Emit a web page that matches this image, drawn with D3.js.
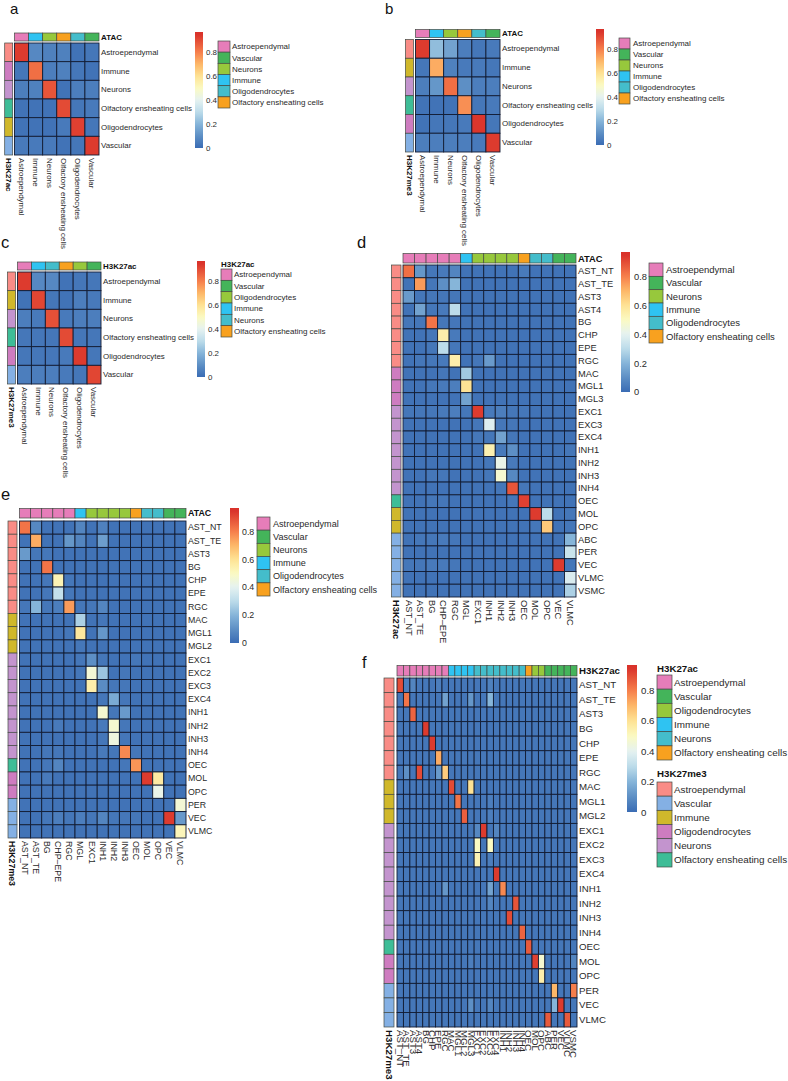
<!DOCTYPE html>
<html><head><meta charset="utf-8">
<script src="https://cdn.jsdelivr.net/npm/d3@7"></script>
<style>html,body{margin:0;background:#fff}svg{display:block}text{font-family:"Liberation Sans",Arial,sans-serif;fill:#2a2a2a}</style>
</head><body><svg id="c" width="788" height="1081"></svg>
<script>
// ---------- categories ----------
const coarse = ["Astroependymal","Immune","Neurons","Olfactory ensheating cells","Oligodendrocytes","Vascular"];
const dRowNames = ["AST_NT","AST_TE","AST3","AST4","BG","CHP","EPE","RGC","MAC","MGL1","MGL3","EXC1","EXC3","EXC4","INH1","INH2","INH3","INH4","OEC","MOL","OPC","ABC","PER","VEC","VLMC","VSMC"];
const efRowNames = ["AST_NT","AST_TE","AST3","BG","CHP","EPE","RGC","MAC","MGL1","MGL2","EXC1","EXC2","EXC3","EXC4","INH1","INH2","INH3","INH4","OEC","MOL","OPC","PER","VEC","VLMC"];
const deColNames = ["AST_NT","AST_TE","BG","CHP\u2013EPE","RGC","MGL","EXC1","INH1","INH2","INH3","OEC","MOL","OPC","VEC","VLMC"];
const fColNames = ["AST_NT","AST_TE","AST3","AST4","BG","CHP","EPE","RGC","MAC","MGL1","MGL2","MGL3","EXC1","EXC2","EXC3","EXC4","INH1","INH2","INH3","INH4","OEC","MOL","OPC","ABC","PER","VEC","VLMC","VSMC"];

// ---------- values (percent of the colour scale's unit) ----------
const aValues = [[93,8,6,6,2,3],[3,83,5,6,3,2],[5,6,88,2,5,5],[2,2,2,90,3,4],[2,2,2,4,92,3],[4,4,4,2,3,93]];
const bValues = [[93,22,15,5,3,4],[3,72,6,4,4,3],[5,12,83,10,5,5],[2,2,2,77,3,4],[2,3,3,4,94,3],[5,5,5,5,4,93]];
const cValues = [[93,8,8,2,3,3],[2,91,3,2,5,4],[5,4,89,4,5,5],[3,3,3,90,3,3],[3,3,3,4,93,3],[5,5,5,4,3,91]];
const dValues = [
[83,12,3,4,7,2,2,2,2,2,4,2,2,2,2],
[2,75,3,10,20,2,2,2,2,2,2,2,2,2,2],
[13,3,3,3,3,2,2,2,2,2,2,2,2,2,2],
[2,15,3,4,30,2,2,2,2,2,2,2,2,2,2],
[3,3,82,3,3,2,2,2,2,2,2,2,2,2,2],
[2,2,3,55,4,2,2,2,2,2,2,2,2,2,2],
[2,2,3,30,3,2,2,2,2,2,2,2,2,2,2],
[2,3,3,4,55,2,3,13,2,2,2,2,2,2,2],
[2,2,2,3,2,25,2,2,2,2,2,2,2,2,2],
[2,2,3,4,5,60,2,2,2,2,2,2,2,2,2],
[2,2,2,2,2,15,2,2,2,2,2,2,2,2,2],
[3,3,3,4,5,3,93,4,5,3,3,2,2,2,2],
[2,2,2,2,2,2,3,38,3,3,2,2,2,2,2],
[2,2,2,2,2,2,3,3,15,3,2,2,2,2,2],
[2,2,2,2,2,2,2,54,4,10,2,2,2,2,3],
[2,2,2,2,2,2,2,3,42,4,2,2,2,2,2],
[2,2,3,3,2,2,2,3,47,8,2,2,2,2,2],
[2,2,2,2,2,2,2,2,3,88,3,2,2,2,2],
[2,2,3,3,2,2,2,2,2,3,92,2,2,2,2],
[2,2,2,2,2,2,2,2,2,2,2,93,30,2,3],
[2,2,2,2,2,2,2,2,2,2,2,3,66,2,3],
[2,3,3,4,3,2,2,2,2,2,2,2,2,2,20],
[2,2,2,2,2,2,2,2,2,2,2,2,2,2,33],
[3,3,4,4,3,2,2,2,2,2,2,2,2,93,3],
[2,2,2,2,2,2,2,2,2,2,2,2,2,2,37],
[2,2,2,2,2,2,2,2,2,2,2,2,2,2,27]];
const eValues = [
[82,8,2,2,2,7,2,6,2,2,2,2,2,2,2],
[2,72,2,2,12,7,2,14,2,2,2,2,2,2,2],
[13,3,3,2,2,2,2,2,2,2,2,2,2,2,2],
[2,2,82,2,2,2,2,2,2,2,2,2,2,2,2],
[2,2,3,53,3,2,2,2,2,2,2,2,2,2,2],
[2,2,3,32,3,2,2,2,2,2,2,2,2,2,2],
[3,20,3,5,75,3,3,7,2,2,2,2,2,2,2],
[2,2,2,2,2,27,2,3,2,2,2,2,2,2,2],
[2,2,2,2,3,58,2,12,2,2,2,2,2,2,2],
[2,2,2,2,2,3,2,2,2,2,2,2,2,2,2],
[2,2,2,2,2,3,10,3,2,2,3,2,2,2,2],
[2,2,2,2,2,3,46,24,2,3,2,2,2,2,2],
[2,2,2,2,2,2,55,9,3,3,2,2,2,2,2],
[2,2,2,2,2,2,2,3,17,3,2,2,2,2,2],
[2,2,2,2,2,2,2,47,3,13,2,2,2,2,2],
[2,2,2,4,2,2,2,4,47,3,2,2,2,2,2],
[2,2,2,2,2,2,2,3,44,3,2,2,2,2,2],
[2,2,3,3,2,2,2,4,3,78,3,2,2,2,2],
[2,2,3,7,2,2,2,2,2,3,76,2,2,2,2],
[2,2,4,2,2,2,2,2,2,2,2,93,57,2,2],
[2,2,2,2,2,2,2,2,2,2,2,2,42,2,2],
[2,2,2,2,2,2,2,2,2,2,2,2,2,2,46],
[2,2,3,5,3,5,3,7,3,3,3,2,2,93,13],
[2,2,2,2,2,2,2,2,2,2,2,2,2,2,52]];
const fValues = [
[90,5,7,3,3,3,5, 3,3,3,3,3,3,3, 6,3,3,3,3,3,3, 3,3,3,3,3,3,3],
[3,82,3,3,3,3,3, 15,3,3,3,12,3,3, 20,3,3,3,3,3,3, 3,3,3,3,3,3,3],
[3,3,85,3,3,3,3, 3,3,3,3,3,3,3, 3,3,3,3,3,3,3, 3,3,3,3,3,3,3],
[3,3,3,3,93,3,3, 3,3,3,3,3,3,3, 3,3,3,3,3,3,3, 3,3,3,3,3,3,3],
[3,3,3,3,3,93,3, 3,3,3,3,3,3,3, 3,3,3,3,3,3,3, 3,3,3,3,3,3,3],
[3,3,3,3,3,3,72, 3,3,3,3,3,3,3, 3,3,3,3,3,3,3, 3,3,3,3,3,3,3],
[3,10,3,90,3,3,13, 65,3,3,3,3,3,3, 3,3,3,3,3,3,3, 3,3,3,3,3,3,3],
[3,3,3,3,3,3,3, 3,90,3,3,60,3,3, 3,3,3,3,3,3,3, 3,3,3,3,3,3,3],
[3,3,3,3,3,3,3, 3,3,82,3,3,3,3, 5,3,3,3,3,3,3, 3,3,3,3,3,3,3],
[3,3,3,3,3,3,3, 3,3,3,86,3,3,3, 5,3,3,3,3,3,3, 3,3,3,3,3,3,3],
[3,3,3,3,3,3,3, 3,3,3,3,3,8,93, 3,7,3,3,3,3,3, 3,3,3,3,3,3,3],
[3,3,3,3,3,3,3, 3,3,3,3,3,50,3, 50,3,3,3,3,3,3, 3,3,3,3,3,3,3],
[3,3,3,3,3,3,3, 3,3,3,3,3,53,3, 5,3,3,3,3,3,3, 3,3,3,3,3,3,3],
[3,3,3,3,3,3,3, 3,3,3,3,3,3,3, 3,93,3,3,3,3,3, 3,3,3,3,3,3,3],
[3,3,3,3,3,3,3, 12,3,3,3,3,3,3, 15,3,78,3,3,3,3, 3,3,3,3,3,3,3],
[3,3,3,3,3,3,3, 3,3,3,3,3,3,3, 7,3,3,3,88,3,3, 3,3,3,3,3,3,3],
[3,3,3,3,3,3,3, 3,3,3,3,3,3,3, 3,3,3,90,3,3,3, 3,3,3,3,3,3,3],
[3,3,3,3,3,3,3, 3,3,3,3,3,3,3, 3,3,3,3,3,85,3, 3,3,3,3,3,3,3],
[3,3,3,3,3,3,3, 3,3,3,3,3,3,3, 3,3,3,3,3,3,87, 3,3,3,3,3,3,3],
[3,3,3,3,3,3,3, 3,3,3,3,5,3,3, 3,3,3,3,3,3,3, 92,47,3,3,3,3,7],
[3,3,3,3,3,3,3, 3,3,3,3,3,3,3, 3,3,3,3,3,3,3, 3,55,3,3,3,3,3],
[3,3,3,3,3,3,3, 3,3,3,3,3,3,3, 3,3,3,3,3,3,3, 3,3,3,70,3,3,80],
[3,3,3,3,3,3,3, 3,3,3,3,10,3,3, 7,3,3,3,3,3,3, 3,3,3,20,93,3,3],
[3,3,3,3,3,3,3, 3,3,3,3,3,3,3, 3,3,3,3,3,3,3, 3,3,87,3,3,87,3]];

// ---------- annotation groups ----------
const aTop = ["astro","immune","neurons","oec","oligo","vasc"];
const cTop = ["astro","immune","neuronsT","oec","oligoG","vasc"];
const deTop = ["astro","astro","astro","astro","astro","immune","neurons","neurons","neurons","neurons","oec","oligo","oligo","vasc","vasc"];
const fTop = ["astro","astro","astro","astro","astro","astro","astro","astro","immune","immune","immune","immune","neuronsT","neuronsT","neuronsT","neuronsT","neuronsT","neuronsT","neuronsT","neuronsT","oec","oligoG","oligoG","vasc","vasc","vasc","vasc","vasc"];
const aLeft = ["sAstro","sOligo","sNeurons","sOec","sImmune","sVasc"];
const bLeft = ["sAstro","sImmune","sNeurons","sOec","sOligo","sVasc"];
const dLeft = ["sAstro","sAstro","sAstro","sAstro","sAstro","sAstro","sAstro","sAstro","sOligo","sOligo","sOligo","sNeurons","sNeurons","sNeurons","sNeurons","sNeurons","sNeurons","sNeurons","sOec","sImmune","sImmune","sVasc","sVasc","sVasc","sVasc","sVasc"];
const efLeft = ["sAstro","sAstro","sAstro","sAstro","sAstro","sAstro","sAstro","sImmune","sImmune","sImmune","sNeurons","sNeurons","sNeurons","sNeurons","sNeurons","sNeurons","sNeurons","sNeurons","sOec","sOligo","sOligo","sVasc","sVasc","sVasc"];
const palette = {astro:"#E67DB9",immune:"#2FC3F2",neurons:"#97C83C",neuronsT:"#44BDCB",oec:"#F8A11F",oligo:"#44BDCB",oligoG:"#97C83C",vasc:"#44B45A",
  sAstro:"#F98C86",sImmune:"#D0B82B",sNeurons:"#C394CE",sOec:"#3EBD97",sOligo:"#CE7CC0",sVasc:"#84B0E4"};
const legendATAC = [["Astroependymal","astro"],["Vascular","vasc"],["Neurons","neurons"],["Immune","immune"],["Oligodendrocytes","oligo"],["Olfactory ensheating cells","oec"]];
const legendK27ac = [["Astroependymal","astro"],["Vascular","vasc"],["Oligodendrocytes","oligoG"],["Immune","immune"],["Neurons","neuronsT"],["Olfactory ensheating cells","oec"]];
const legendK27me3 = [["Astroependymal","sAstro"],["Vascular","sVasc"],["Immune","sImmune"],["Oligodendrocytes","sOligo"],["Neurons","sNeurons"],["Olfactory ensheating cells","sOec"]];
const colorTicks = [0,0.2,0.4,0.6,0.8];

// ---------- colour scale ----------
const color = d3.scaleLinear()
  .domain([0,0.1,0.2,0.3,0.4,0.5,0.6,0.7,0.8,0.95])
  .range(["#3a6cb4","#5d8fc5","#86b5d9","#bcdcea","#e6f2f1","#fbfac2","#fee294","#fdb768","#f67e4b","#d9312a"])
  .clamp(true);
const colorMax = 0.967;

// ---------- panel layout ----------
const panels = [
 {id:"a",lx:10,ly:13.6,lf:15,vals:aValues,rows:coarse,cols:coarse,top:aTop,left:aLeft,topName:"ATAC",leftName:"H3K27ac",
  x:[14.5,99],y:[43,155],topY:[33,41],leftX:[4.7,12.7],fs:7.95,lfs:8,
  cb:{x:[195,203],y:[148,32],tx:206},legends:[{items:legendATAC,x:[218,230],y:[41,108],tx:232}]},
 {id:"b",lx:385,ly:13.6,lf:15,vals:bValues,rows:coarse,cols:coarse,top:aTop,left:bLeft,topName:"ATAC",leftName:"H3K27me3",
  x:[415.5,500],y:[39.5,152],topY:[29.5,37.5],leftX:[405.5,413.5],fs:7.95,lfs:8,
  cb:{x:[596,604],y:[145,29],tx:607},legends:[{items:legendATAC,x:[619,630],y:[38,104],tx:633}]},
 {id:"c",lx:1,ly:248,lf:16.5,vals:cValues,rows:coarse,cols:coarse,top:cTop,left:bLeft,topName:"H3K27ac",leftName:"H3K27me3",
  x:[17.5,101],y:[272,384],topY:[262,270],leftX:[7.5,15.5],fs:7.95,lfs:8,
  cb:{x:[197,205],y:[377,261],tx:208},legends:[{title:"H3K27ac",items:legendK27ac,x:[221,232],y:[269,337],tx:234,ty:264}]},
 {id:"d",lx:357,ly:248,lf:16.5,vals:dValues,rows:dRowNames,cols:deColNames,top:deTop,left:dLeft,topName:"ATAC",leftName:"H3K27ac",
  x:[403,576],y:[265,597],topY:[253.5,263],leftX:[391.5,401],fs:9.3,lfs:9.5,
  cb:{x:[621,630],y:[392,252],tx:634},legends:[{items:legendATAC,x:[649,663],y:[263,343],tx:666}]},
 {id:"e",lx:1,ly:500,lf:16.5,vals:eValues,rows:efRowNames,cols:deColNames,top:deTop,left:efLeft,topName:"ATAC",leftName:"H3K27me3",
  x:[19.5,186],y:[521,838],topY:[508.5,518],leftX:[8,17],fs:8.8,lfs:9.1,
  cb:{x:[230,239],y:[643,508],tx:242},legends:[{items:legendATAC,x:[257,270],y:[517,596],tx:273}]},
 {id:"f",lx:362,ly:668,lf:16.5,vals:fValues,rows:efRowNames,cols:fColNames,top:fTop,left:efLeft,topName:"H3K27ac",leftName:"H3K27me3",
  x:[397,577],y:[678,1027],topY:[665.5,676],leftX:[384,394],fs:9.7,lfs:9.9,
  cb:{x:[627,637],y:[812,665],tx:641},legends:[
   {title:"H3K27ac",items:legendK27ac,x:[657,672],y:[675,760],tx:674,ty:669},
   {title:"H3K27me3",items:legendK27me3,x:[657,672],y:[782,867],tx:674,ty:774}]}
];

const svg = d3.select("#c");
const defs = svg.append("defs");
const gid = "cbgrad";
const grad = defs.append("linearGradient").attr("id",gid).attr("x1",0).attr("x2",0).attr("y1",1).attr("y2",0);
d3.range(0,41).forEach(i=>{const t=i/40; grad.append("stop").attr("offset",t).attr("stop-color",color(t*colorMax));});

panels.forEach(p=>{
  const g = svg.append("g");
  g.append("text").attr("x",p.lx).attr("y",p.ly).attr("font-size",p.lf).attr("fill","#111").style("fill","#111").text(p.id);

  const xs = d3.scaleBand().domain(d3.range(p.cols.length)).range(p.x);
  const ys = d3.scaleBand().domain(d3.range(p.rows.length)).range(p.y);

  // heat cells
  const cells = p.vals.flatMap((r,i)=>r.map((v,j)=>({i,j,v:v/100})));
  g.append("g").selectAll("rect").data(cells).join("rect")
    .attr("x",d=>xs(d.j)).attr("y",d=>ys(d.i))
    .attr("width",xs.bandwidth()).attr("height",ys.bandwidth())
    .attr("fill",d=>color(d.v)).attr("stroke","#121c33").attr("stroke-width",0.9);

  // top annotation
  g.append("g").selectAll("rect").data(p.top).join("rect")
    .attr("x",(d,j)=>xs(j)).attr("y",p.topY[0])
    .attr("width",xs.bandwidth()).attr("height",p.topY[1]-p.topY[0])
    .attr("fill",d=>palette[d]).attr("stroke","#444a44").attr("stroke-width",0.7);
  // left annotation
  g.append("g").selectAll("rect").data(p.left).join("rect")
    .attr("x",p.leftX[0]).attr("y",(d,i)=>ys(i))
    .attr("width",p.leftX[1]-p.leftX[0]).attr("height",ys.bandwidth())
    .attr("fill",d=>palette[d]).attr("stroke","#444a44").attr("stroke-width",0.7);

  // row labels
  const rowAxis = d3.axisRight(d3.scaleBand().domain(p.rows).range(p.y)).tickSize(0).tickPadding(2);
  const ra = g.append("g").attr("transform",`translate(${p.x[1]},0)`).call(rowAxis);
  ra.select(".domain").remove();
  ra.attr("font-family",null);
  ra.selectAll("text").attr("font-size",p.fs);

  // column labels (rotated, reading downward)
  const colScale = d3.scaleBand().domain(p.cols).range(p.x);
  const colAxis = d3.axisBottom(colScale).tickSize(0).tickPadding(0);
  const ca = g.append("g").attr("transform",`translate(0,${p.y[1]})`).call(colAxis);
  ca.select(".domain").remove();
  ca.attr("font-family",null);
  ca.selectAll("text").attr("font-size",p.fs)
    .attr("transform","rotate(90)").attr("text-anchor","start")
    .attr("x",3).attr("y",0).attr("dy","0.35em");

  // annotation names
  g.append("text").attr("x",p.x[1]+2).attr("y",(p.topY[0]+p.topY[1])/2).attr("dy","0.35em")
    .attr("font-size",p.fs).attr("font-weight","bold").style("fill","#111").text(p.topName);
  g.append("text").attr("transform",`translate(${(p.leftX[0]+p.leftX[1])/2},${p.y[1]+3}) rotate(90)`)
    .attr("dy","0.35em").attr("font-size",p.fs).attr("font-weight","bold").style("fill","#111").text(p.leftName);

  // colour bar
  const cy = d3.scaleLinear().domain([0,colorMax]).range(p.cb.y);
  g.append("rect").attr("x",p.cb.x[0]).attr("y",p.cb.y[1])
    .attr("width",p.cb.x[1]-p.cb.x[0]).attr("height",p.cb.y[0]-p.cb.y[1]).attr("fill",`url(#${gid})`);
  const cbAxis = d3.axisRight(cy).tickValues(colorTicks).tickFormat(d3.format("~g")).tickSize(0).tickPadding(0);
  const cba = g.append("g").attr("transform",`translate(${p.cb.tx},0)`).call(cbAxis);
  cba.select(".domain").remove();
  cba.attr("font-family",null);
  cba.selectAll("text").attr("font-size",p.fs);

  // legends
  p.legends.forEach(l=>{
    const ly = d3.scaleBand().domain(l.items.map((d,i)=>i)).range(l.y);
    if(l.title) g.append("text").attr("x",l.x[0]).attr("y",l.ty).attr("dy","0.35em")
      .attr("font-size",p.fs).attr("font-weight","bold").style("fill","#111").text(l.title);
    const it = g.append("g").selectAll("g").data(l.items).join("g");
    it.append("rect").attr("x",l.x[0]).attr("y",(d,i)=>ly(i))
      .attr("width",l.x[1]-l.x[0]).attr("height",ly.bandwidth())
      .attr("fill",d=>palette[d[1]]).attr("stroke","#444a44").attr("stroke-width",0.7);
    it.append("text").attr("x",l.tx).attr("y",(d,i)=>ly(i)+ly.bandwidth()/2).attr("dy","0.35em")
      .attr("font-size",p.lfs).text(d=>d[0]);
  });
});
</script></body></html>
